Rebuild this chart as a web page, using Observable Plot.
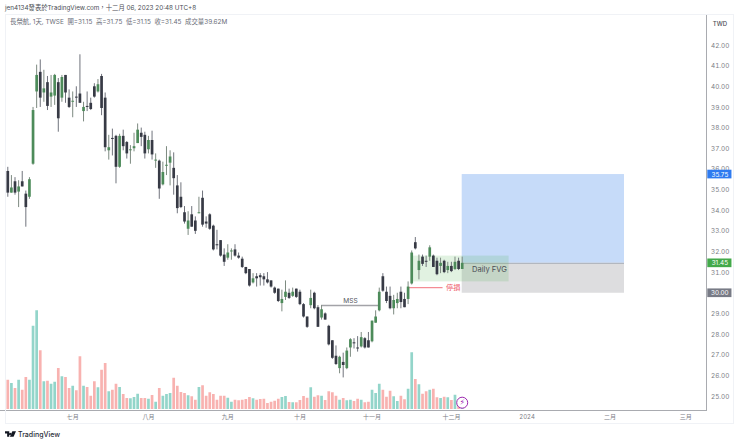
<!DOCTYPE html>
<html><head><meta charset="utf-8">
<script src="https://cdn.jsdelivr.net/npm/d3@7"></script>
<script src="https://cdn.jsdelivr.net/npm/@observablehq/plot@0.6"></script>
<style>
html,body{margin:0;padding:0;background:#fff;overflow:hidden}
#wrap{position:relative;width:740px;height:443px;overflow:hidden;font-family:Inter,"Noto Sans CJK TC",sans-serif}
#wrap svg.plot-layer{position:absolute;left:0;top:0;background:transparent}
.t{position:absolute;white-space:pre;line-height:1}
</style></head><body>
<div id="wrap">
<div class="t" style="left:5px;top:5px;font-size:6.35px;color:#4a4d55">jen4134發表於TradingView.com，十二月 06, 2023 20:48 UTC+8</div>
<div class="t" style="left:10px;top:19px;font-size:6.4px;color:#6a6d78">長榮航, 1天, TWSE  開=31.15  高=31.75  低=31.15  收=31.45  成交量39.62M</div>
<svg style="position:absolute;left:5px;top:431px" width="11" height="6" viewBox="0 0 36 18"><path d="M0 0h14v18H7V7H0z M17 5a3.5 3.5 0 1 0 .01 0z M24 0h12l-8 18H16z" fill="#131722"/></svg>
<div class="t" style="left:18px;top:430.5px;font-size:7px;font-weight:500;color:#2a2e39">TradingView</div>
</div>
<script>
const opens=[35.90,34.85,35.40,34.90,35.40,34.80,34.65,36.25,39.75,40.70,
39.70,40.20,39.50,39.55,40.20,39.45,40.55,39.45,39.25,39.50,
39.65,38.80,39.05,39.20,40.00,39.75,40.50,39.45,36.90,37.50,
37.60,36.10,37.60,37.30,36.90,37.00,37.25,37.75,37.65,36.95,
37.40,36.40,36.40,35.25,36.15,36.30,36.05,35.20,34.65,33.90,
33.10,33.80,33.50,33.85,34.60,33.45,33.80,33.25,32.35,32.55,
31.85,31.70,32.00,32.10,31.80,31.65,31.25,31.15,30.50,30.80,
30.85,30.80,30.65,30.60,30.25,30.20,29.50,29.80,30.00,29.85,
30.20,30.05,29.45,28.85,29.40,30.00,29.30,28.80,29.00,28.40,
27.70,26.95,26.35,26.65,26.35,27.35,27.60,27.35,27.40,27.80,
27.70,27.65,28.55,29.15,30.80,30.05,29.85,29.25,29.50,30.05,
29.70,29.70,30.45,32.45,31.10,31.75,31.55,31.75,31.80,31.55,
31.30,31.55,31.10,31.30,31.15,31.55,31.15];
const highs=[36.10,35.70,35.60,35.45,35.90,34.95,35.60,39.00,41.05,41.30,
40.80,40.50,40.55,40.60,40.40,40.55,40.55,39.85,39.75,40.00,
41.55,39.25,39.75,39.45,40.15,40.35,40.60,39.70,37.65,37.95,
37.65,37.70,37.90,37.35,37.15,37.75,38.20,38.00,37.80,37.60,
37.85,36.75,36.45,36.35,37.10,36.90,36.80,35.70,35.35,34.20,
33.95,34.20,33.70,34.65,34.95,33.70,33.85,33.30,33.05,32.55,
32.15,32.35,32.15,32.35,31.95,31.75,31.25,31.15,30.95,30.95,
30.95,30.95,31.00,30.60,30.30,30.20,30.15,30.60,30.20,30.25,
30.20,30.15,29.50,28.85,30.15,30.05,29.40,29.40,29.05,28.45,
27.70,27.45,26.95,27.10,27.35,27.80,27.80,27.90,28.10,27.85,
28.10,28.65,29.15,30.25,30.95,30.30,30.30,29.90,30.00,30.30,
30.00,30.55,32.05,32.70,31.85,31.85,31.80,32.30,31.85,31.70,
31.70,31.60,31.50,31.50,31.75,31.70,31.75];
const lows=[34.65,34.85,34.75,34.15,35.15,33.20,34.55,36.20,38.95,39.00,
39.25,38.85,39.00,39.10,37.80,39.25,39.20,38.95,38.50,39.00,
39.20,38.30,38.80,38.85,39.45,39.70,38.60,36.85,36.45,36.65,
35.30,36.05,36.90,36.50,36.25,36.85,37.25,37.10,36.50,36.75,
36.45,36.05,34.55,35.20,35.70,35.20,34.75,33.85,34.10,33.35,
32.80,33.20,32.85,33.85,33.20,33.15,33.05,32.05,32.10,31.75,
31.30,31.60,31.60,31.75,31.65,31.20,30.90,30.30,30.45,30.30,
30.35,30.35,30.45,30.25,29.95,29.55,29.10,29.65,29.70,29.80,
29.75,29.40,28.80,28.30,29.25,29.20,28.35,28.70,28.70,27.45,
26.80,26.50,26.10,25.90,26.30,26.90,27.30,27.15,27.35,27.30,
27.35,27.60,28.55,29.10,30.05,29.50,29.20,28.95,29.25,29.25,
29.30,29.45,30.40,32.10,30.65,31.30,31.25,31.55,31.25,30.85,
30.95,30.95,30.95,31.00,31.10,31.10,31.15];
const closes=[34.85,35.10,34.85,35.15,35.15,34.15,35.50,38.85,40.55,39.45,
39.90,39.05,39.70,40.55,38.45,40.45,39.70,39.00,39.30,39.45,
39.20,39.00,39.00,38.90,39.50,40.10,38.95,37.05,37.05,37.45,
36.10,37.60,37.10,36.75,36.95,37.10,37.90,37.55,36.75,37.40,
36.70,36.45,35.05,35.85,36.20,36.60,35.55,34.10,34.15,33.45,
33.50,33.20,33.00,33.90,33.30,33.35,33.10,32.10,32.30,31.80,
31.50,31.95,32.05,31.80,31.70,31.25,30.95,30.35,30.70,30.70,
30.75,30.65,30.50,30.30,30.00,29.60,29.70,30.05,29.75,30.05,
29.80,29.45,28.85,28.35,29.75,29.25,28.35,29.20,28.70,27.50,
26.85,26.55,26.90,26.50,27.20,27.75,27.55,27.30,27.85,27.35,
27.35,28.65,28.85,30.05,30.10,29.60,29.25,29.65,29.70,29.55,
29.30,30.30,31.95,32.15,31.55,31.40,31.50,32.20,31.25,30.90,
31.45,31.00,31.30,31.05,31.50,31.15,31.45];
const volumes=[117,104,84,117,77,128,117,333,395,235,
111,113,101,109,164,131,128,84,93,75,
211,93,88,53,111,87,157,184,71,77,
101,88,60,44,43,48,61,44,44,41,
56,29,84,53,60,64,125,93,68,64,
55,51,37,88,95,53,67,60,37,53,
53,45,29,37,35,37,40,48,43,37,
40,41,24,29,33,41,48,52,28,27,
27,36,52,45,87,49,55,53,36,71,
67,53,37,44,35,37,32,41,37,27,
29,77,64,101,77,49,73,51,32,53,
39,81,227,120,99,61,71,77,81,47,
44,49,47,36,57,31,39.62];
const monthIdx=[18,39,61,81,101,123,144,167,188];
const monthLabels=["七月","八月","九月","十月","十一月","十二月","2024","二月","三月"];
const priceTicks=[25,26,27,28,29,31,32,33,34,35,36,37,38,39,40,41,42];
const priceTags=[{p:35.75,c:"#2f7bf0"},{p:31.45,c:"#43a94a"},{p:30.00,c:"#787b86"}];

const candles=opens.map((o,i)=>({i,o,h:highs[i],l:lows[i],c:closes[i],v:volumes[i],up:closes[i]>=o}));
const xScale={type:"linear",domain:[0,126],range:[7.3,461.7],axis:null};
const base={width:740,height:443,marginLeft:0,marginRight:34,marginTop:14,marginBottom:33,className:"plot-layer",style:{background:"transparent"}};
const font="Inter,'Noto Sans CJK TC',sans-serif";

const volPlot=Plot.plot({...base,x:xScale,
  y:{domain:[0,400],range:[409,309],axis:null},
  marks:[
    Plot.ruleX(candles,{x:"i",y1:0,y2:"v",stroke:d=>d.up?"#93d5ca":"#f8b2b0",strokeWidth:2.7})
  ]});

const pricePlot=Plot.plot({...base,
  x:{type:"linear",domain:[0,126],range:[7.3,461.7]},
  y:{domain:[42,25],range:[45,396],axis:null},
  marks:[
    Plot.rect([{a:126,b:171,p1:31.45,p2:35.75}],{x1:"a",x2:"b",y1:"p1",y2:"p2",fill:"#c6dbf9"}),
    Plot.rect([{a:126,b:171,p1:30.00,p2:31.45}],{x1:"a",x2:"b",y1:"p1",y2:"p2",fill:"#dddddf"}),
    Plot.ruleY([31.45],{x1:126,x2:171,stroke:"#a8aeb8",strokeWidth:1}),
    Plot.rect([{a:112,b:139,p1:30.55,p2:31.8}],{x1:"a",x2:"b",y1:"p1",y2:"p2",fill:"#4caf50",fillOpacity:0.17}),
    Plot.ruleY([30.27],{x1:111,x2:120.7,stroke:"#f2727c",strokeWidth:1}),
    Plot.ruleY([29.41],{x1:87,x2:103,stroke:"#a3a3a8",strokeWidth:1.4}),
    Plot.ruleX(candles,{x:"i",y1:"l",y2:"h",stroke:d=>d.up?"#7d8a80":"#70737c",strokeWidth:1}),
    Plot.ruleX(candles,{x:"i",y1:"o",y2:"c",stroke:d=>d.up?"#4d8b5a":"#373a45",strokeWidth:2.7}),
    Plot.text(["MSS"],{x:95,y:29.65,text:d=>d,fontSize:6.6,fill:"#55585f",fontFamily:font}),
    Plot.text(["停損"],{x:123.5,y:30.27,text:d=>d,fontSize:7.2,fill:"#ee5a68",fontFamily:font}),
    Plot.text(["Daily FVG"],{x:128.7,y:31.15,text:d=>d,textAnchor:"start",fontSize:7.6,fill:"#4b4e55",fontFamily:font}),
    Plot.frame({anchor:"right",stroke:"#a9abb0"}),
    Plot.frame({anchor:"bottom",stroke:"#a9abb0"}),
    Plot.axisY(priceTicks,{anchor:"right",tickSize:0,tickPadding:4.5,label:null,tickFormat:d=>d.toFixed(2),fontSize:6.4,fill:"#7b7d85",fontFamily:font}),
    Plot.axisX(monthIdx,{anchor:"bottom",tickSize:0,tickPadding:4,label:null,tickFormat:d=>monthLabels[monthIdx.indexOf(d)],fontSize:6,fill:"#7b7d85",fontFamily:font}),
    Plot.rect(priceTags,{x1:194.1,x2:200.8,y1:d=>d.p-0.21,y2:d=>d.p+0.21,fill:"c"}),
    Plot.text(priceTags,{x:197.45,y:"p",text:d=>d.p.toFixed(2),fill:"#fff",fontSize:6.4,fontFamily:font}),
    Plot.text(["TWD"],{x:197.45,y:43.05,text:d=>d,fontSize:6,fontWeight:500,fill:"#4b4e55",fontFamily:font}),
    Plot.dot([{i:126,p:24.7}],{x:"i",y:"p",r:5.5,stroke:"#9c27b0",strokeWidth:1,fill:"#fff"}),
    Plot.text(["⚡"],{x:126,y:24.7,text:d=>d,fontSize:8,fill:"#9c27b0",fontFamily:"DejaVu Sans"})
  ]});

const wrap=document.getElementById("wrap");
wrap.append(volPlot,pricePlot);
const border=document.createElement("div");
border.style.cssText="position:absolute;left:5px;top:14px;width:729px;height:410px;border:1px solid #f0f2f6;box-sizing:border-box;pointer-events:none";
wrap.append(border);
</script>
</body></html>
